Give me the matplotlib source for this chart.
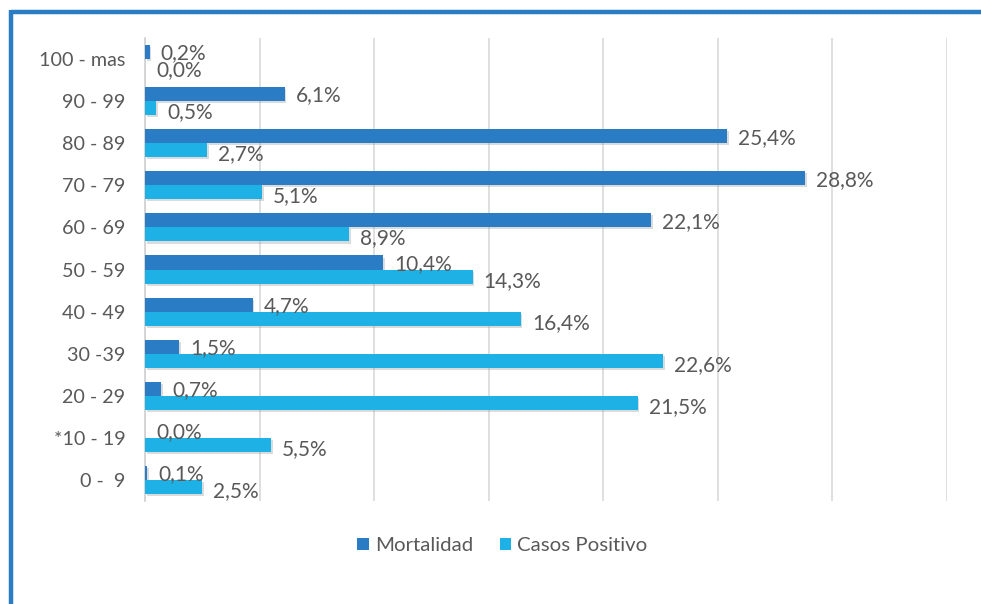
import matplotlib.pyplot as plt
import matplotlib.patheffects as pe
from matplotlib.lines import Line2D
from matplotlib.patches import Patch
import numpy as np

plt.rcParams['font.family'] = ['Lato', 'DejaVu Sans']

grupos = ["100 - mas", "90 - 99", "80 - 89", "70 - 79", "60 - 69", "50 - 59",
          "40 - 49", "30 -39", "20 - 29", "*10 - 19", "0 -  9"]
mortalidad = [0.2, 6.1, 25.4, 28.8, 22.1, 10.4, 4.7, 1.5, 0.7, 0.0, 0.1]
casos = [0.0, 0.5, 2.7, 5.1, 8.9, 14.3, 16.4, 22.6, 21.5, 5.5, 2.5]

c_mort = "#2a7cc4"
c_casos = "#1db1e6"
gris = "#595959"

fig = plt.figure(figsize=(9.81, 6.04), dpi=100)
ax = fig.add_axes([0.1478, 0.1705, 0.8175, 0.7666])

n = len(grupos)
y = np.arange(n)[::-1]
h = 0.333
sombra = [pe.SimplePatchShadow(offset=(1.2, -1.5), shadow_rgbFace="#9a9a9a", alpha=0.35), pe.Normal()]

b1 = ax.barh(y + h / 2, mortalidad, height=h, color=c_mort, zorder=3)
b2 = ax.barh(y - h / 2, casos, height=h, color=c_casos, zorder=3)
for b in list(b1) + list(b2):
    b.set_path_effects(sombra)

for yi, v in zip(y + h / 2, mortalidad):
    ax.annotate(f"{v:.1f}%".replace(".", ","), (v, yi), xytext=(8, -1),
                textcoords="offset points", va="center", ha="left",
                fontsize=15, color=gris)
for yi, v in zip(y - h / 2, casos):
    ax.annotate(f"{v:.1f}%".replace(".", ","), (v, yi), xytext=(8, -3),
                textcoords="offset points", va="center", ha="left",
                fontsize=15, color=gris)

ax.set_xlim(0, 35)
ax.set_ylim(-0.5, n - 0.5)
ax.set_xticks(np.arange(0, 36, 5))
ax.set_xticklabels([])
ax.tick_params(axis="x", length=0)
ax.set_yticks(y)
ax.set_yticklabels(grupos, fontsize=14.2, color=gris)
ax.tick_params(axis="y", length=0, pad=14)
ax.grid(axis="x", color="#d9d9d9", linewidth=1.2, zorder=0)
for s in ["top", "right", "bottom"]:
    ax.spines[s].set_visible(False)
ax.spines["left"].set_color("#d0d0d0")
ax.spines["left"].set_linewidth(1.2)

handles = [Patch(facecolor=c_mort), Patch(facecolor=c_casos)]
fig.legend(handles=handles, labels=["Mortalidad", "Casos Positivo"],
           loc="center", bbox_to_anchor=(0.512, 0.097), ncol=2, frameon=False,
           fontsize=14.7, labelcolor=gris, handlelength=0.55, handleheight=0.55,
           handletextpad=0.3, columnspacing=1.3)

# marco azul arriba e izquierda
fig.add_artist(Line2D([0.0112, 1.0], [0.9801, 0.9801], color="#2a7cc4", linewidth=3.2,
                      transform=fig.transFigure, solid_capstyle="butt"))
fig.add_artist(Line2D([0.0112, 0.0112], [0.984, 0.0], color="#2a7cc4", linewidth=3.2,
                      transform=fig.transFigure, solid_capstyle="butt"))

fig.savefig("out.png", dpi=100)
